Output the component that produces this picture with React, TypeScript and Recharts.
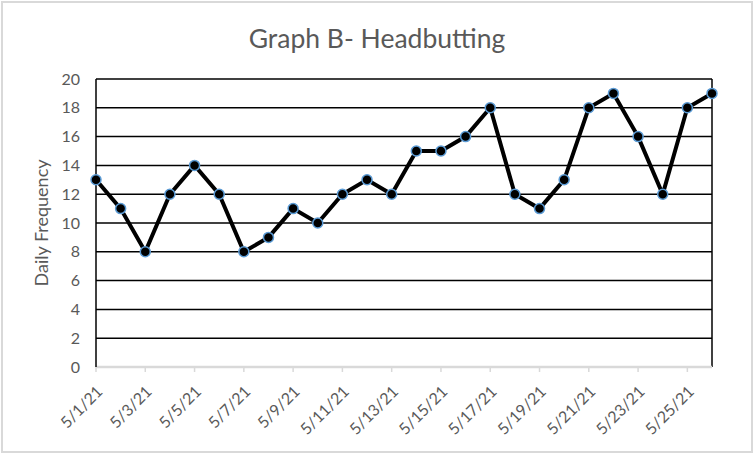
import React from "react";
import { LineChart, Line, XAxis, YAxis, CartesianGrid, ReferenceLine, Label } from "recharts";

const dates = [
  "5/1/21", "5/2/21", "5/3/21", "5/4/21", "5/5/21", "5/6/21", "5/7/21", "5/8/21", "5/9/21",
  "5/10/21", "5/11/21", "5/12/21", "5/13/21", "5/14/21", "5/15/21", "5/16/21", "5/17/21",
  "5/18/21", "5/19/21", "5/20/21", "5/21/21", "5/22/21", "5/23/21", "5/24/21", "5/25/21", "5/26/21",
];
const headbutts = [13, 11, 8, 12, 14, 12, 8, 9, 11, 10, 12, 13, 12, 15, 15, 16, 18, 12, 11, 13, 18, 19, 16, 12, 18, 19];
const yTicks = [0, 2, 4, 6, 8, 10, 12, 14, 16, 18, 20];

const data = dates.map((d, i) => ({ date: d, value: headbutts[i] }));

const FONT = "Lato, 'Open Sans', sans-serif";
const TEXT = "#595959";

function DateTick(props: any) {
  const { x, y, payload } = props;
  return (
    <g transform={`translate(${x + 2},${y + 13})`}>
      <text x={0} y={0} dy={8} textAnchor="end" transform="rotate(-45)" fill={TEXT} fontSize={16} fontFamily={FONT}>
        {payload.value}
      </text>
    </g>
  );
}

export default function App() {
  return (
    <div style={{ position: "absolute", left: 0, top: 0, width: 754, height: 454, background: "#fff" }}>
      <div
        style={{
          position: "absolute",
          left: 1,
          top: 1,
          width: 752,
          height: 452,
          boxSizing: "border-box",
          border: "2px solid #d9d9d9",
        }}
      />
      <div
        style={{
          position: "absolute",
          left: 0,
          top: 21,
          width: 754,
          textAlign: "center",
          fontFamily: FONT,
          fontSize: 26.5,
          color: TEXT,
          lineHeight: "34px",
        }}
      >
        Graph B- Headbutting
      </div>
      <div style={{ position: "absolute", left: 0, top: 0 }}>
        <LineChart width={754} height={454} data={data} margin={{ top: 79, right: 42, bottom: 0, left: 0 }}>
          <CartesianGrid horizontal vertical={false} stroke="#000" strokeWidth={1.5} />
          <XAxis
            dataKey="date"
            interval={1}
            height={87}
            axisLine={{ stroke: "#d9d9d9", strokeWidth: 2.5 }}
            tickLine={{ stroke: "#d9d9d9", strokeWidth: 1.5 }}
            tickSize={5}
            tickMargin={2}
            tick={<DateTick />}
          />
          <YAxis
            domain={[0, 20]}
            ticks={yTicks}
            width={96}
            axisLine={{ stroke: "#000", strokeWidth: 1.5 }}
            tickLine={false}
            tickSize={0}
            tickMargin={16}
            tick={{ fill: TEXT, fontSize: 16, fontFamily: FONT }}
          >
            <Label
              value="Daily Frequency"
              angle={-90}
              position="insideLeft"
              offset={42}
              style={{ textAnchor: "middle", fill: TEXT, fontSize: 18, fontFamily: FONT }}
            />
          </YAxis>
          <ReferenceLine x={dates[dates.length - 1]} stroke="#000" strokeWidth={1.5} />
          <Line
            type="linear"
            dataKey="value"
            stroke="#000"
            strokeWidth={4}
            dot={{ r: 5, fill: "#000", stroke: "#5b9bd5", strokeWidth: 1.5 }}
            isAnimationActive={false}
          />
        </LineChart>
      </div>
    </div>
  );
}
